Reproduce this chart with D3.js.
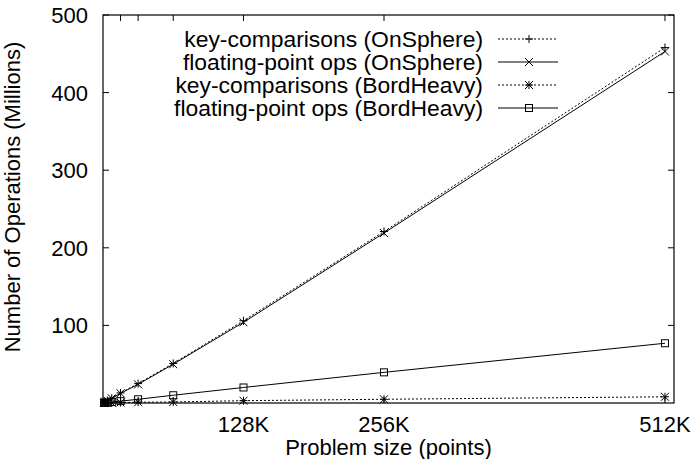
<!DOCTYPE html>
<html>
<head>
<meta charset="utf-8">
<script src="https://cdn.jsdelivr.net/npm/d3@7"></script>
<style>
  body { margin: 0; background: #fff; }
  svg text { font-family: "Liberation Sans", Arial, sans-serif; fill: #000; }
</style>
</head>
<body>
<div id="chart"></div>
<script>
// problem sizes (points)
var sizes = [1024, 2048, 4096, 8192, 16384, 32768, 65536, 131072, 262144, 524288];
// millions of operations
var keyOnSphere = [0.8, 1.7, 3.2, 6.3, 13, 25, 51, 106, 221, 458];
var fpOnSphere = [0.8, 1.6, 3, 6, 12.5, 24, 50, 104, 219, 453];
var keyBordHeavy = [0.05, 0.1, 0.15, 0.3, 0.6, 1, 1.3, 3, 4.8, 8];
var fpBordHeavy = [0.15, 0.3, 0.6, 1.2, 2.4, 4.8, 10, 20, 39.5, 77];

var xTicks = [16384, 32768, 65536, 131072, 262144, 524288];
var xTickLabels = ["", "", "", "128K", "256K", "512K"];
var yTicks = [100, 200, 300, 400, 500];

var series = [
  {name: "key-comparisons (OnSphere)", values: keyOnSphere, dash: "2,2", mark: "plus"},
  {name: "floating-point ops (OnSphere)", values: fpOnSphere, dash: null, mark: "cross"},
  {name: "key-comparisons (BordHeavy)", values: keyBordHeavy, dash: "2,2", mark: "star"},
  {name: "floating-point ops (BordHeavy)", values: fpBordHeavy, dash: null, mark: "square"}
];

var W = 693, H = 459;
var pLeft = 103, pRight = 674, pTop = 15, pBottom = 403;

var svg = d3.select("#chart").append("svg").attr("width", W).attr("height", H);

var x = d3.scaleLinear().domain([0, 532700]).range([pLeft, pRight]);
var y = d3.scaleLinear().domain([0, 500]).range([pBottom, pTop]);

// ticks, mirrored on all sides, pointing inward
var tickLen = 6;
var axes = svg.append("g").attr("stroke", "#000").attr("stroke-width", 1);
xTicks.forEach(function(t){
  axes.append("line").attr("x1", x(t)).attr("x2", x(t)).attr("y1", pBottom).attr("y2", pBottom - tickLen);
  axes.append("line").attr("x1", x(t)).attr("x2", x(t)).attr("y1", pTop).attr("y2", pTop + tickLen);
});
yTicks.forEach(function(t){
  axes.append("line").attr("x1", pLeft).attr("x2", pLeft + tickLen).attr("y1", y(t)).attr("y2", y(t));
  axes.append("line").attr("x1", pRight).attr("x2", pRight - tickLen).attr("y1", y(t)).attr("y2", y(t));
});

svg.selectAll(".ylab").data(yTicks).enter().append("text")
  .attr("x", pLeft - 15).attr("y", function(d){ return y(d); })
  .attr("dy", "0.36em").attr("text-anchor", "end")
  .style("font-size", "22px").text(function(d){ return d; });

svg.selectAll(".xlab").data(xTicks).enter().append("text")
  .attr("x", function(d){ return x(d); }).attr("y", 432)
  .attr("text-anchor", "middle")
  .style("font-size", "22px").text(function(d, i){ return xTickLabels[i]; });

svg.append("text").attr("x", (pLeft + pRight) / 2).attr("y", 455)
  .attr("text-anchor", "middle").style("font-size", "22px")
  .text("Problem size (points)");

svg.append("text").attr("transform", "translate(20,197) rotate(-90)")
  .attr("text-anchor", "middle").style("font-size", "22px")
  .text("Number of Operations (Millions)");

function drawMark(g, kind, cx, cy){
  var s = 4;
  var p = g.append("g").attr("stroke", "#000").attr("stroke-width", 1).attr("fill", "none");
  if (kind === "plus" || kind === "star") {
    p.append("line").attr("x1", cx - s).attr("x2", cx + s).attr("y1", cy).attr("y2", cy);
    p.append("line").attr("x1", cx).attr("x2", cx).attr("y1", cy - s).attr("y2", cy + s);
  }
  if (kind === "cross" || kind === "star") {
    p.append("line").attr("x1", cx - s).attr("x2", cx + s).attr("y1", cy - s).attr("y2", cy + s);
    p.append("line").attr("x1", cx - s).attr("x2", cx + s).attr("y1", cy + s).attr("y2", cy - s);
  }
  if (kind === "square") {
    p.append("rect").attr("x", cx - 3.5).attr("y", cy - 3.5).attr("width", 7).attr("height", 7);
  }
}

var line = d3.line()
  .x(function(d, i){ return x(sizes[i]); })
  .y(function(d){ return y(d); });

var plot = svg.append("g");
series.forEach(function(s){
  plot.append("path").datum(s.values).attr("d", line)
    .attr("fill", "none").attr("stroke", "#000").attr("stroke-width", 1)
    .attr("stroke-dasharray", s.dash);
  s.values.forEach(function(v, i){ drawMark(plot, s.mark, x(sizes[i]), y(v)); });
});

// legend
var legY = [39, 62, 85, 108];
series.forEach(function(s, i){
  var ly = legY[i];
  svg.append("text").attr("transform", "translate(483," + ly + ") scale(1.04,1)")
    .attr("dy", "0.36em")
    .attr("text-anchor", "end").style("font-size", "22px").text(s.name);
  svg.append("line").attr("x1", 498).attr("x2", 558).attr("y1", ly).attr("y2", ly)
    .attr("stroke", "#000").attr("stroke-width", 1).attr("stroke-dasharray", s.dash);
  drawMark(svg, s.mark, 529, ly);
});

// border
svg.append("rect").attr("x", pLeft).attr("y", pTop)
  .attr("width", pRight - pLeft).attr("height", pBottom - pTop)
  .attr("fill", "none").attr("stroke", "#000").attr("stroke-width", 1.2);
</script>
</body>
</html>
